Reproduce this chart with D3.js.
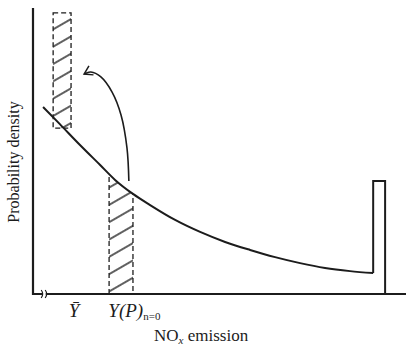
<!DOCTYPE html>
<html>
<head>
<meta charset="utf-8">
<script src="https://cdn.jsdelivr.net/npm/d3@7"></script>
<style>
  body { margin: 0; background: #fff; }
  svg { display: block; }
</style>
</head>
<body>
<svg class="chart"></svg>
<script>
// density curve (arbitrary units)
const curveX = [2.7, 7.2, 12.6, 18.0, 22.0, 26.8, 31.4, 38.1, 44.8, 51.5, 58.2, 64.9, 71.6, 78.3, 85.0, 91.2];
const curveY = [65.4, 59.4, 52.1, 45.1, 39.9, 35.0, 31.1, 25.9, 21.7, 18.2, 15.4, 12.9, 10.8, 9.1, 8.0, 7.3];

// probability mass at the upper limit
const massX = [91.2, 94.4];
const massTop = 39.5;

// shaded bands
const upperBandX = [5.4, 10.2];
const upperBandY = [58.0, 98.3];
const lowerBandX = [20.4, 26.8];

// curved arrow from lower band to upper band
const arrowX = [25.7, 25.2, 23.6, 21.2, 18.2, 15.5, 13.7];
const arrowY = [39.5, 51.0, 62.6, 70.6, 75.9, 77.6, 76.9];

const axisBreakX = 3.0;
const tickLabels = [
  {x: 9.6, main: "\u0232", sub: ""},
  {x: 20.2, main: "Y(P)", sub: "n=0"}
];

const width = 406, height = 345;
const ink = "#1c1c1c";
const serif = "'Liberation Serif', 'DejaVu Serif', serif";

const x = d3.scaleLinear().domain([0, 100]).range([33, 406]);
const y = d3.scaleLinear().domain([0, 100]).range([294, 8]);

const svg = d3.select(".chart")
    .attr("width", width)
    .attr("height", height);

const defs = svg.append("defs");

defs.append("pattern")
    .attr("id", "hatch")
    .attr("patternUnits", "userSpaceOnUse")
    .attr("width", 10)
    .attr("height", 15)
    .attr("patternTransform", "rotate(-30)")
  .append("line")
    .attr("x1", 0).attr("x2", 10)
    .attr("y1", 7).attr("y2", 7)
    .attr("stroke", ink)
    .attr("stroke-width", 1.4);

defs.append("marker")
    .attr("id", "head")
    .attr("viewBox", "-10 -6 12 12")
    .attr("refX", 0).attr("refY", 0)
    .attr("markerWidth", 12).attr("markerHeight", 12)
    .attr("markerUnits", "userSpaceOnUse")
    .attr("orient", "auto")
  .append("path")
    .attr("d", "M-8,-5L0,0L-8,5")
    .attr("fill", "none")
    .attr("stroke", ink)
    .attr("stroke-width", 1.5);

const pts = curveX.map((v, i) => [v, curveY[i]]);

// clip for lower band: area under curve
defs.append("clipPath")
    .attr("id", "under")
  .append("path")
    .attr("d", d3.area()
        .x(d => x(d[0]))
        .y0(y(0))
        .y1(d => y(d[1]))
        .curve(d3.curveMonotoneX)(pts));

// upper band
svg.append("rect")
    .attr("x", x(upperBandX[0]))
    .attr("y", y(upperBandY[1]))
    .attr("width", x(upperBandX[1]) - x(upperBandX[0]))
    .attr("height", y(upperBandY[0]) - y(upperBandY[1]))
    .attr("fill", "url(#hatch)")
    .attr("stroke", ink)
    .attr("stroke-width", 1.3)
    .attr("stroke-dasharray", "5,3");

// lower band
svg.append("rect")
    .attr("clip-path", "url(#under)")
    .attr("x", x(lowerBandX[0]))
    .attr("y", y(70))
    .attr("width", x(lowerBandX[1]) - x(lowerBandX[0]))
    .attr("height", y(0) - y(70))
    .attr("fill", "url(#hatch)")
    .attr("stroke", ink)
    .attr("stroke-width", 1.3)
    .attr("stroke-dasharray", "5,3");

// density curve
svg.append("path")
    .attr("d", d3.line()
        .x(d => x(d[0]))
        .y(d => y(d[1]))
        .curve(d3.curveMonotoneX)(pts))
    .attr("fill", "none")
    .attr("stroke", ink)
    .attr("stroke-width", 2);

// mass spike
svg.append("path")
    .attr("d", d3.line()([
        [x(massX[0]), y(curveY[curveY.length - 1])],
        [x(massX[0]), y(massTop)],
        [x(massX[1]), y(massTop)],
        [x(massX[1]), y(0)]
    ]))
    .attr("fill", "none")
    .attr("stroke", ink)
    .attr("stroke-width", 2);

// arrow
svg.append("path")
    .attr("d", d3.line()
        .x((d, i) => x(arrowX[i]))
        .y((d, i) => y(arrowY[i]))
        .curve(d3.curveCatmullRom)(arrowX))
    .attr("fill", "none")
    .attr("stroke", ink)
    .attr("stroke-width", 1.6)
    .attr("marker-end", "url(#head)");

// axes
svg.append("line")
    .attr("x1", x(0)).attr("x2", x(0))
    .attr("y1", y(100)).attr("y2", y(0) + 1)
    .attr("stroke", ink)
    .attr("stroke-width", 2.2);

svg.append("line")
    .attr("x1", x(0) - 1).attr("x2", x(100))
    .attr("y1", y(0)).attr("y2", y(0))
    .attr("stroke", ink)
    .attr("stroke-width", 2.2);

// axis break
const bx = x(axisBreakX);
svg.append("rect")
    .attr("x", bx - 1.5).attr("y", y(0) - 2)
    .attr("width", 3).attr("height", 4)
    .attr("fill", "#fff");
svg.selectAll(".brk")
    .data([-2, 2])
  .enter().append("path")
    .attr("class", "brk")
    .attr("d", d => `M${bx + d - 1},${y(0) - 4} Q${bx + d + 2},${y(0)} ${bx + d - 1},${y(0) + 4}`)
    .attr("fill", "none")
    .attr("stroke", ink)
    .attr("stroke-width", 1.2);

// tick labels
const lab = svg.append("g")
    .attr("font-family", serif)
    .attr("font-style", "italic")
    .attr("font-size", 19)
    .attr("fill", ink);

tickLabels.forEach(t => {
  const txt = lab.append("text")
      .attr("x", x(t.x))
      .attr("y", 317);
  txt.append("tspan").text(t.main);
  if (t.sub) {
    txt.append("tspan")
        .attr("font-size", 11)
        .attr("font-style", "normal")
        .attr("dy", 3)
        .text(t.sub);
  }
});

// axis titles
const xt = svg.append("text")
    .attr("x", 154)
    .attr("y", 341)
    .attr("font-family", serif)
    .attr("font-size", 17)
    .attr("fill", ink);
xt.append("tspan").text("NO");
xt.append("tspan").attr("font-size", 11).attr("font-style", "italic").attr("dy", 3).text("x");
xt.append("tspan").attr("dy", -3).text(" emission");

svg.append("text")
    .attr("transform", "translate(19,162) rotate(-90)")
    .attr("text-anchor", "middle")
    .attr("font-family", serif)
    .attr("font-size", 16)
    .attr("fill", ink)
    .text("Probability density");
</script>
</body>
</html>
